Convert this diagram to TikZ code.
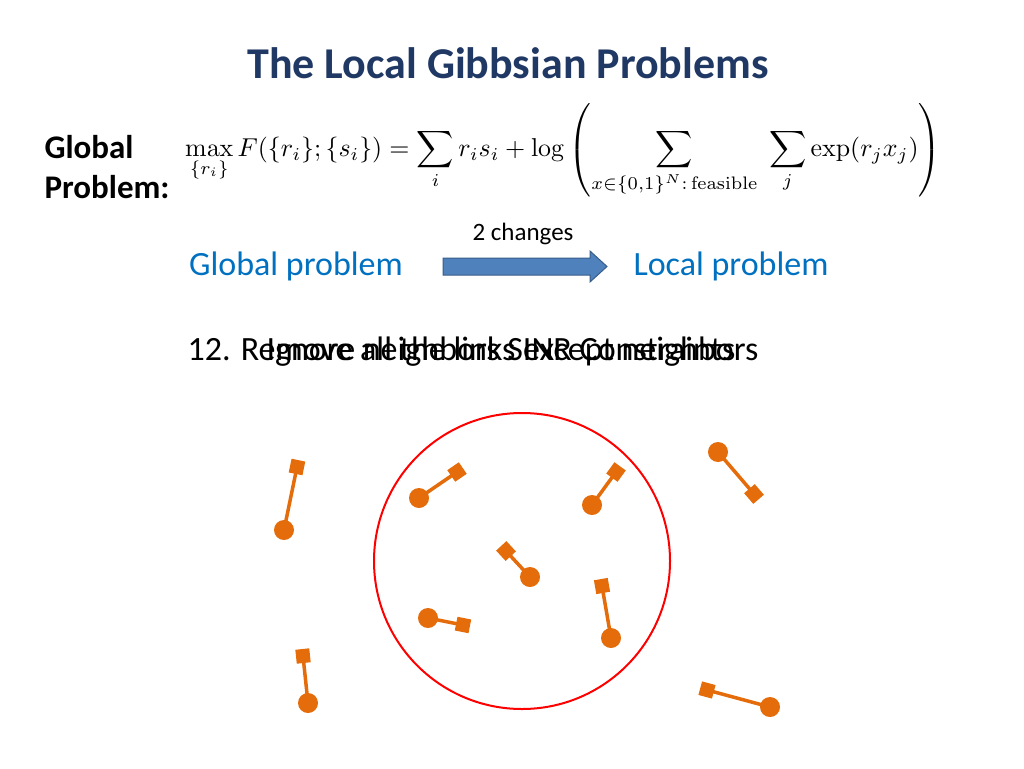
\documentclass[tikz,border=0pt]{standalone}
\usepackage{amsmath}
\usepackage[no-math]{fontspec}
\setmainfont{Carlito}
\definecolor{ttl}{HTML}{203864}
\definecolor{lb}{HTML}{0070C0}
\definecolor{ora}{HTML}{E46C0A}
\definecolor{arf}{HTML}{4F81BD}
\definecolor{ard}{HTML}{385D8A}
\tikzset{
  dot/.style={circle,fill=ora,inner sep=0pt,minimum size=20pt},
  sq/.style={rectangle,fill=ora,inner sep=0pt,minimum size=14pt},
  link/.style={ora,line width=3.5pt},
  blue/.style={text=lb,font=\fontsize{34}{40}\selectfont,anchor=center},
}
\begin{document}
\begin{tikzpicture}[x=1pt,y=-1pt]
\useasboundingbox (0,0) rectangle (1024,768);
\node[text=ttl,font=\fontsize{44}{50}\selectfont\bfseries] (title) at (508,63) {The Local Gibbsian Problems};
\node[font=\fontsize{33}{40}\selectfont\bfseries,align=left,anchor=west] (gp1) at (41,147) {Global};
\node[font=\fontsize{33}{40}\selectfont\bfseries,align=left,anchor=west] (gp2) at (41,187) {Problem:};
\node[anchor=west,inner sep=0pt] (f) at (185,150) {\resizebox{756pt}{!}{$\displaystyle \max_{\{r_i\}} F(\{r_i\};\{s_i\}) = \sum_i r_i s_i + \log\left(\sum_{x\in\{0,1\}^N:\,\mathrm{feasible}}\;\sum_j \exp(r_j x_j)\right)$}};
\node[font=\fontsize{25}{30}\selectfont] (ch) at (523,234) {2 changes};
\node[blue] (g) at (296,266) {Global problem};
\node[blue] (l) at (731,266) {Local problem};
\draw[fill=arf,draw=ard,line width=1pt] (443,258) -- (590,258) -- (590,251) -- (607,266.5) -- (590,282) -- (590,275) -- (443,275) -- cycle;
\node[anchor=west,font=\fontsize{34}{40}\selectfont] (t1) at (184,352) {12. Remove all the links except neighbors};
\node[anchor=west,font=\fontsize{34}{40}\selectfont] (t2) at (263,352) {Ignore neighbors SINR Constraints};
\draw[red,line width=2pt] (522,561) circle (148);
\foreach \cx/\cy/\sx/\sy [count=\i] in {284/530/297/467, 419/498/457/472, 592/505/616/472, 718/452/754/494, 530/577/506/551, 611/638/602/586, 428/618/463/625, 308/703/303/656, 770/707/707/690}{
  \node[dot] (c\i) at (\cx,\cy) {};
  \coordinate (s\i) at (\sx,\sy);
  \draw[link] (c\i.center) -- (s\i) node[sq,sloped,pos=1] (q\i) {};
}
\end{tikzpicture}
\end{document}
